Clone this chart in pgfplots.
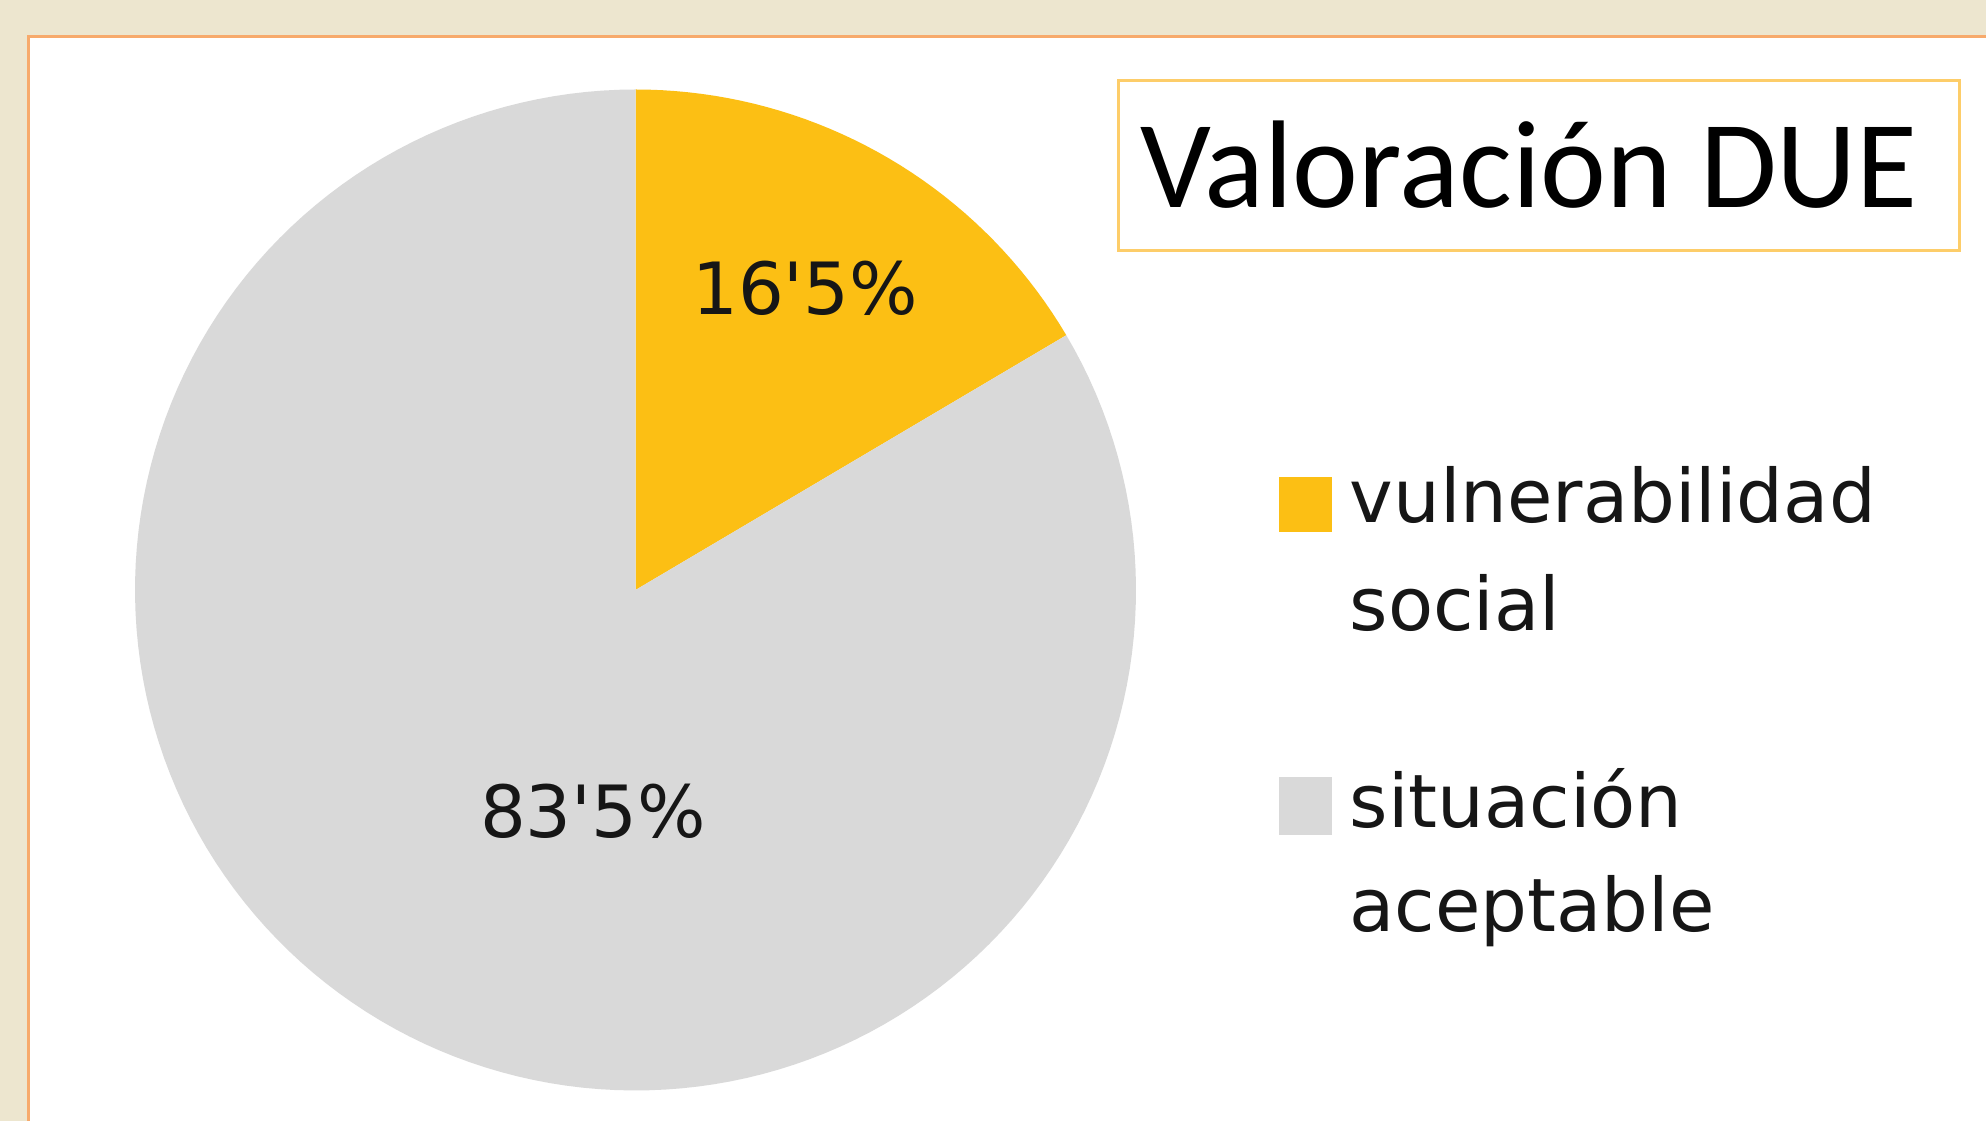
\documentclass[border=0pt]{standalone}
\usepackage{pgfplots}
\pgfplotsset{compat=1.18}
\usepackage{pgfplotstable}
\usepackage{fontspec}
\setmainfont{DejaVu Sans}
\newfontfamily\carlito{Carlito}
\definecolor{bgbeige}{RGB}{237,230,207}
\definecolor{panelborder}{RGB}{247,170,108}
\definecolor{titleborder}{RGB}{253,205,105}
\definecolor{pieyellow}{RGB}{252,191,20}
\definecolor{piegray}{RGB}{217,217,217}
\definecolor{txt}{RGB}{22,22,22}

\pgfplotstableread{
label value
vulnerabilidad 16.5
aceptable 83.5
}\piedata
\pgfplotstablegetelem{0}{value}\of\piedata
\pgfmathsetmacro{\va}{\pgfplotsretval}
\pgfplotstablegetelem{1}{value}\of\piedata
\pgfmathsetmacro{\vb}{\pgfplotsretval}
% slices start at 12 o'clock and run clockwise
\pgfmathsetmacro{\aStart}{90}
\pgfmathsetmacro{\aMid}{90-3.6*\va}
\pgfmathsetmacro{\aEnd}{\aMid-3.6*\vb}

\begin{document}
\begin{tikzpicture}[x=1cm,y=1cm]
\useasboundingbox (0,0) rectangle (19.86,11.21);
\fill[bgbeige] (0,0) rectangle (19.86,11.21);
\fill[white] (0.28,0) rectangle (19.86,10.84);
\draw[panelborder, line width=0.03cm] (0.28,0) -- (0.28,10.84) -- (19.86,10.84);

\begin{axis}[
  at={(6.355cm,5.31cm)}, anchor=center,
  width=10.01cm, height=10.01cm, scale only axis,
  xmin=-1, xmax=1, ymin=-1, ymax=1,
  hide axis, clip=false,
]
\addplot[fill=pieyellow, draw=none, domain=\aMid:\aStart, samples=40]
  ({cos(x)},{sin(x)}) -- (0,0) -- cycle;
\addplot[fill=piegray, draw=none, domain=\aEnd:\aMid, samples=160]
  ({cos(x)},{sin(x)}) -- (0,0) -- cycle;
\node[txt, font=\fontsize{20.5}{24}\selectfont, inner sep=0pt] at (axis cs:0.339,0.603) {16\textquotesingle 5\%};
\node[txt, font=\fontsize{20.5}{24}\selectfont, inner sep=0pt] at (axis cs:-0.085,-0.442) {83\textquotesingle 5\%};
\end{axis}

% title box
\draw[titleborder, line width=0.03cm] (11.18,10.40) rectangle (19.59,8.70);
\node[anchor=base west, inner sep=0pt, font=\carlito\fontsize{35.5}{40}\selectfont, text=black] at (11.40,9.13) {Valoración DUE};

% legend
\fill[pieyellow] (12.79,5.89) rectangle (13.32,6.44);
\fill[piegray] (12.79,2.86) rectangle (13.32,3.44);
\begin{scope}[every node/.style={anchor=base west, inner sep=0pt, text=txt, font=\fontsize{21}{25}\selectfont}]
\node at (13.49,5.98) {vulnerabilidad};
\node at (13.49,4.90) {social};
\node at (13.49,2.93) {situación};
\node at (13.49,1.89) {aceptable};
\end{scope}
\end{tikzpicture}
\end{document}
